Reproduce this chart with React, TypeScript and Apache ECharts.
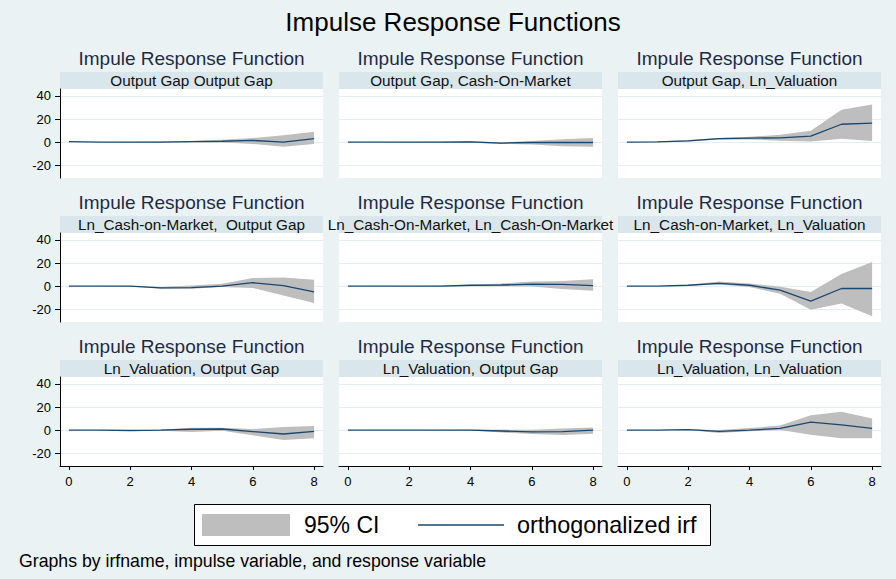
import React, { useEffect, useRef } from "react";
import * as echarts from "echarts";

const steps = [0, 1, 2, 3, 4, 5, 6, 7, 8];
const xTicks = [0, 2, 4, 6, 8];
const yTicks = [-20, 0, 20, 40];

const mainTitle = "Impulse Response Functions";
const headingText = "Impule Response Function";
const panelTitles = [
  "Output Gap Output Gap",
  "Output Gap, Cash-On-Market",
  "Output Gap, Ln_Valuation",
  "Ln_Cash-on-Market,  Output Gap",
  "Ln_Cash-On-Market, Ln_Cash-On-Market",
  "Ln_Cash-on-Market, Ln_Valuation",
  "Ln_Valuation, Output Gap",
  "Ln_Valuation, Output Gap",
  "Ln_Valuation, Ln_Valuation",
];
const legendCI = "95% CI";
const legendIrf = "orthogonalized irf";
const noteText = "Graphs by irfname, impulse variable, and response variable";

// orthogonalized irf per panel
const irf1 = [0.5, 0, 0, 0, 0.5, 0.8, 1.5, 0, 3];
const irf2 = [0, 0, 0, 0, 0.3, -0.8, -0.3, -0.2, -0.3];
const irf3 = [0, 0.3, 1.2, 3, 3.5, 3.8, 5.3, 15.5, 16.5];
const irf4 = [0, 0, 0, -1.5, -1.2, 0, 3, 0.5, -5];
const irf5 = [0, 0, 0, 0, 0.8, 1, 1.8, 1.5, 0.5];
const irf6 = [0, 0, 0.8, 2.5, 0.8, -3.5, -13, -2, -2];
const irf7 = [0, 0, -0.3, 0, 0.8, 1, -1.2, -3.3, -1];
const irf8 = [0, 0, 0, 0, 0, -0.7, -1.5, -1.3, 0];
const irf9 = [0, 0, 0.5, -1, 0, 1.5, 7, 4.5, 1.5];

// 95% CI lower bounds
const lo1 = [0.5, 0, -0.2, -0.3, 0, -0.3, -1.5, -4, -1.5];
const lo2 = [0, 0, -0.2, -0.3, -0.5, -1.5, -2, -3.5, -4];
const lo3 = [0, 0.1, 0.6, 2.2, 2.3, 1.2, 0.5, 3, 1];
const lo4 = [0, 0, -0.2, -2.3, -2.3, -0.8, -1.5, -8, -14.5];
const lo5 = [0, 0, -0.1, -0.2, 0, 0, -0.3, -2.4, -4];
const lo6 = [0, 0, 0.3, 1.5, -0.8, -6.5, -20.5, -15, -26];
const lo7 = [0, 0, -0.5, -0.6, -1.5, -0.5, -4.5, -8.5, -7];
const lo8 = [0, 0, 0, -0.1, -0.3, -2, -3.3, -4.2, -3];
const lo9 = [0, 0, 0.2, -2.4, -1, 0.2, -4, -7, -7];

// 95% CI upper bounds
const hi1 = [0.5, 0, 0.2, 0.5, 1, 2, 3.5, 6, 9];
const hi2 = [0, 0, 0.2, 0.3, 0.8, 0, 1, 2.5, 3.5];
const hi3 = [0, 0.5, 1.8, 3.6, 4.7, 6.5, 9.8, 28, 32.5];
const hi4 = [0, 0, 0.2, -0.7, 0.5, 2, 7, 7.5, 5.5];
const hi5 = [0, 0, 0.1, 0.3, 1.3, 2.3, 4, 4.5, 6];
const hi6 = [0, 0, 1.3, 4, 2.4, -0.5, -5, 10.5, 21];
const hi7 = [0, 0, -0.1, 0.6, 2.2, 2, 1, 2.7, 3.6];
const hi8 = [0, 0, 0, 0.1, 0.3, 0.5, 0.3, 1.5, 2.4];
const hi9 = [0, 0, 0.8, 0.2, 1.8, 4, 13, 16, 10];

const irfs = [irf1, irf2, irf3, irf4, irf5, irf6, irf7, irf8, irf9];
const los = [lo1, lo2, lo3, lo4, lo5, lo6, lo7, lo8, lo9];
const his = [hi1, hi2, hi3, hi4, hi5, hi6, hi7, hi8, hi9];

const FONT = "'Liberation Sans', Arial, Helvetica, sans-serif";
const BG = "#EAF2F3";
const STRIP = "#D9E6EB";
const GRID_LINE = "#E4EDEF";
const CI_COLOR = "#BEBEBE";
const LINE_COLOR = "#1A476F";

const colLeft = [60, 339, 618];
const rowTop = [89, 233, 377];
const PW = 263;
const PH = 89;

export default function App() {
  const ref = useRef<HTMLDivElement>(null);

  useEffect(() => {
    document.body.style.margin = "0";
    if (!ref.current) return;
    const chart = echarts.init(ref.current, undefined, { renderer: "svg" });

    const grids: any[] = [];
    const xAxes: any[] = [];
    const yAxes: any[] = [];
    const series: any[] = [];
    const graphics: any[] = [];

    for (let i = 0; i < 9; i++) {
      const row = Math.floor(i / 3);
      const col = i % 3;
      const left = colLeft[col];
      const top = rowTop[row];
      grids.push({
        left,
        top,
        width: PW,
        height: PH,
        show: true,
        backgroundColor: "#FFFFFF",
        borderWidth: 0,
        containLabel: false,
      });
      const bottomRow = row === 2;
      const leftCol = col === 0;
      xAxes.push({
        gridIndex: i,
        type: "value",
        min: -0.29,
        max: 8.29,
        axisLine: { show: bottomRow, onZero: false, lineStyle: { color: "#000", width: 1 } },
        axisTick: {
          show: bottomRow,
          customValues: xTicks,
          length: 4,
          lineStyle: { color: "#000", width: 1 },
        },
        axisLabel: {
          show: bottomRow,
          customValues: xTicks,
          color: "#000",
          fontSize: 13,
          fontFamily: FONT,
          margin: 9,
        },
        splitLine: { show: false },
      });
      yAxes.push({
        gridIndex: i,
        type: "value",
        min: -31,
        max: 46,
        axisLine: { show: leftCol, onZero: false, lineStyle: { color: "#000", width: 1 } },
        axisTick: {
          show: leftCol,
          customValues: yTicks,
          length: 5,
          lineStyle: { color: "#000", width: 1 },
        },
        axisLabel: {
          show: leftCol,
          customValues: yTicks,
          color: "#000",
          fontSize: 13,
          fontFamily: FONT,
          margin: 9,
        },
        splitLine: { show: true, lineStyle: { color: GRID_LINE, width: 1 } },
      });

      const lo = los[i];
      const hi = his[i];
      series.push({
        name: legendCI,
        type: "custom",
        xAxisIndex: i,
        yAxisIndex: i,
        clip: true,
        silent: true,
        z: 2,
        data: steps.map((s, k) => [s, lo[k], hi[k]]),
        encode: { x: 0, y: [1, 2] },
        renderItem: (params: any, api: any) => {
          if (params.dataIndex !== 0) return null;
          const pts: number[][] = [];
          for (let k = 0; k < steps.length; k++) pts.push(api.coord([steps[k], lo[k]]));
          for (let k = steps.length - 1; k >= 0; k--) pts.push(api.coord([steps[k], hi[k]]));
          return {
            type: "polygon",
            shape: { points: pts },
            style: { fill: CI_COLOR, stroke: null },
          };
        },
      });
      series.push({
        name: legendIrf,
        type: "line",
        xAxisIndex: i,
        yAxisIndex: i,
        symbol: "none",
        silent: true,
        z: 3,
        data: steps.map((s, k) => [s, irfs[i][k]]),
        lineStyle: { color: LINE_COLOR, width: 1.3 },
      });

      // heading + strip
      graphics.push({
        type: "text",
        x: left + PW / 2,
        y: top - 31,
        style: {
          text: headingText,
          fill: "#1F2B45",
          font: `19px ${FONT}`,
          textAlign: "center",
          textVerticalAlign: "middle",
        },
      });
      graphics.push({
        type: "rect",
        shape: { x: left, y: top - 17, width: PW, height: 17 },
        style: { fill: STRIP },
        z: -1,
      });
      graphics.push({
        type: "text",
        x: left + PW / 2,
        y: top - 9,
        style: {
          text: panelTitles[i],
          fill: "#111",
          font: `15.3px ${FONT}`,
          textAlign: "center",
          textVerticalAlign: "middle",
        },
      });
    }

    // main title
    graphics.push({
      type: "text",
      x: 453,
      y: 22,
      style: {
        text: mainTitle,
        fill: "#000",
        font: `26px ${FONT}`,
        textAlign: "center",
        textVerticalAlign: "middle",
      },
    });
    // legend
    graphics.push({
      type: "rect",
      shape: { x: 194.5, y: 504.5, width: 516, height: 41 },
      style: { fill: "#FFFFFF", stroke: "#000", lineWidth: 1 },
    });
    graphics.push({
      type: "rect",
      shape: { x: 202, y: 514, width: 88, height: 22 },
      style: { fill: CI_COLOR },
    });
    graphics.push({
      type: "text",
      x: 304,
      y: 525,
      style: {
        text: legendCI,
        fill: "#000",
        font: `23px ${FONT}`,
        textAlign: "left",
        textVerticalAlign: "middle",
      },
    });
    graphics.push({
      type: "line",
      shape: { x1: 418, y1: 525, x2: 504, y2: 525 },
      style: { stroke: LINE_COLOR, lineWidth: 1.5 },
    });
    graphics.push({
      type: "text",
      x: 517,
      y: 525,
      style: {
        text: legendIrf,
        fill: "#000",
        font: `23.4px ${FONT}`,
        textAlign: "left",
        textVerticalAlign: "middle",
      },
    });
    // note
    graphics.push({
      type: "text",
      x: 19,
      y: 561,
      style: {
        text: noteText,
        fill: "#000",
        font: `17.7px ${FONT}`,
        textAlign: "left",
        textVerticalAlign: "middle",
      },
    });

    chart.setOption({
      animation: false,
      backgroundColor: BG,
      grid: grids,
      xAxis: xAxes,
      yAxis: yAxes,
      series,
      graphic: graphics,
    });

    return () => {
      chart.dispose();
    };
  }, []);

  return (
    <div
      ref={ref}
      style={{ position: "absolute", left: 0, top: 0, width: 896, height: 579 }}
    />
  );
}
